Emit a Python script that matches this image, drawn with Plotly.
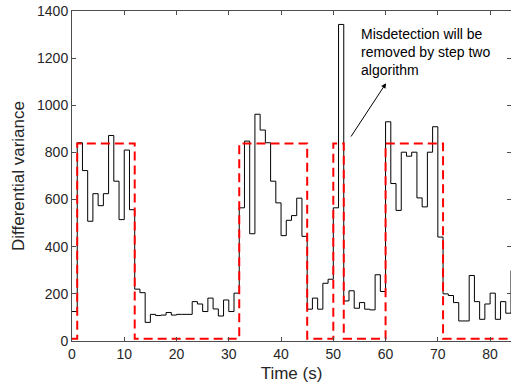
import plotly.graph_objects as go

# Differential variance, one value per second (stairs), t = 0..84
time_s = list(range(0, 85))
diff_var = [
    125, 841, 723, 508, 625, 574, 625, 872, 678, 515,
    810, 557, 220, 205, 79, 113, 108, 110, 121, 110,
    113, 113, 113, 167, 157, 125, 182, 136, 106, 174,
    125, 203, 565, 848, 455, 962, 895, 841, 678, 586,
    447, 512, 532, 606, 444, 135, 182, 135, 245, 262,
    565, 1343, 170, 213, 139, 163, 135, 132, 281, 210,
    930, 668, 554, 801, 784, 801, 607, 569, 801, 909,
    441, 200, 193, 163, 85, 85, 278, 167, 92, 157,
    203, 92, 167, 118, 299,
]

# Detection (rectangular) signal
det_t = [0, 1, 12, 32, 45, 50, 52, 60, 71, 84]
det_v = [10, 838, 10, 838, 10, 838, 10, 838, 10, 10]

x_ticks = [0, 10, 20, 30, 40, 50, 60, 70, 80]
y_ticks = [0, 200, 400, 600, 800, 1000, 1200, 1400]

font_family = "Liberation Sans, Arial, Helvetica, sans-serif"
axis_col = "#4d4d4d"
text_col = "#262626"

fig = go.Figure()
fig.add_trace(go.Scatter(
    x=time_s, y=diff_var, mode="lines", line=dict(color="black", width=1, shape="hv"),
    showlegend=False, hoverinfo="skip"))
fig.add_trace(go.Scatter(
    x=det_t, y=det_v, mode="lines",
    line=dict(color="#ff0000", width=2, shape="hv", dash="9px,5px"),
    showlegend=False, hoverinfo="skip"))

fig.add_annotation(
    x=60.1, y=1094, ax=53.2, ay=861, xref="x", yref="y", axref="x", ayref="y",
    text="", showarrow=True, arrowhead=2, arrowsize=1, arrowwidth=1,
    arrowcolor="black", standoff=0, startstandoff=0)
fig.add_annotation(
    x=55.0, y=1228, xref="x", yref="y",
    text="Misdetection will be<br>removed by step two<br>algorithm",
    showarrow=False, xanchor="left", yanchor="middle", align="left",
    font=dict(family=font_family, size=14, color="black"))

fig.update_xaxes(
    range=[0, 84], tickvals=x_ticks, ticks="inside", ticklen=4, tickcolor=axis_col,
    showline=True, linecolor=axis_col, linewidth=1, mirror="ticks",
    showgrid=False, zeroline=False,
    title=dict(text="Time (s)", font=dict(family=font_family, size=17, color=text_col), standoff=6),
    tickfont=dict(family=font_family, size=14, color=text_col))
fig.update_yaxes(
    range=[0, 1400], tickvals=y_ticks, ticks="inside", ticklen=4, tickcolor=axis_col,
    showline=True, linecolor=axis_col, linewidth=1, mirror="ticks",
    showgrid=False, zeroline=False,
    title=dict(text="Differential variance", font=dict(family=font_family, size=17, color=text_col), standoff=8),
    tickfont=dict(family=font_family, size=14, color=text_col))

fig.update_layout(
    width=511, height=391,
    margin=dict(l=72, r=0, t=11, b=50),
    paper_bgcolor="white", plot_bgcolor="white",
    font=dict(family=font_family, color=text_col))

fig.write_html("out.html")
